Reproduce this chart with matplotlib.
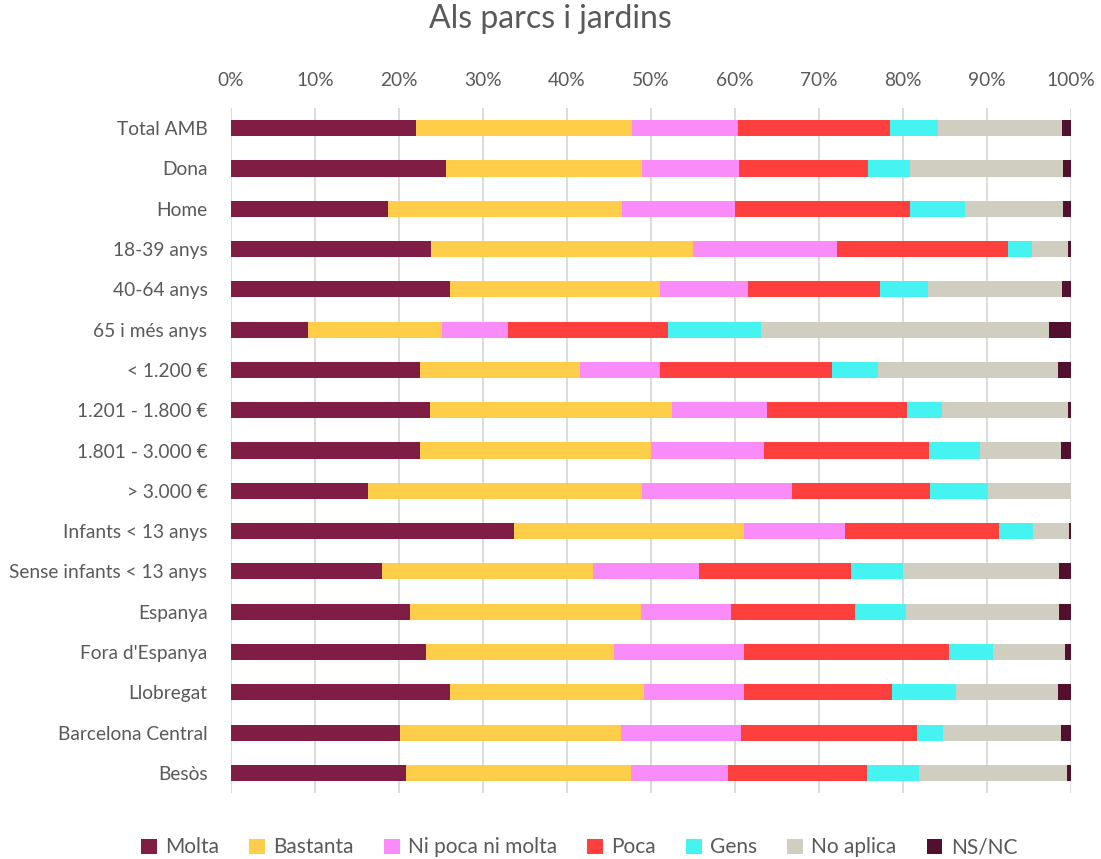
import matplotlib
matplotlib.use("Agg")
import matplotlib.pyplot as plt
import numpy as np
from matplotlib.ticker import PercentFormatter

plt.rcParams['font.family'] = ['Lato', 'DejaVu Sans']

categories = ["Total AMB", "Dona", "Home", "18-39 anys", "40-64 anys", "65 i més anys",
              "< 1.200 €", "1.201 - 1.800 €", "1.801 - 3.000 €", "> 3.000 €",
              "Infants < 13 anys", "Sense infants < 13 anys", "Espanya", "Fora d'Espanya",
              "Llobregat", "Barcelona Central", "Besòs"]

series_names = ["Molta", "Bastanta", "Ni poca ni molta", "Poca", "Gens", "No aplica", "NS/NC"]

molta     = [22.0, 25.6, 18.7, 23.9, 26.1, 9.2, 22.5, 23.7, 22.5, 16.3, 33.7, 18.0, 21.3, 23.2, 26.1, 20.1, 20.8]
bastanta  = [25.7, 23.3, 27.8, 31.2, 25.0, 15.9, 19.0, 28.8, 27.6, 32.6, 27.4, 25.0, 27.6, 22.4, 23.1, 26.4, 26.9]
ni_poca   = [12.7, 11.5, 13.4, 17.2, 10.4, 7.9, 9.6, 11.2, 13.4, 17.9, 12.1, 12.6, 10.7, 15.5, 11.9, 14.3, 11.5]
poca      = [18.1, 15.4, 20.9, 20.4, 15.8, 19.0, 20.4, 16.7, 19.7, 16.4, 18.3, 18.1, 14.8, 24.5, 17.6, 21.0, 16.6]
gens      = [5.7, 5.0, 6.5, 2.9, 5.7, 11.0, 5.5, 4.2, 6.0, 6.9, 4.1, 6.2, 6.0, 5.2, 7.6, 3.1, 6.2]
no_aplica = [14.7, 18.1, 11.6, 4.3, 15.9, 34.3, 21.5, 15.0, 9.7, 9.9, 4.3, 18.6, 18.3, 8.6, 12.2, 14.0, 17.6]
nsnc      = [1.1, 1.0, 1.0, 0.3, 1.1, 2.6, 1.5, 0.3, 1.2, 0.0, 0.2, 1.4, 1.4, 0.7, 1.5, 1.2, 0.5]

colors = ["#7F1D45", "#FECE4A", "#FA8CFA", "#FF3E3E", "#45F3F0", "#D0CDC1", "#52102E"]

data = np.array([molta, bastanta, ni_poca, poca, gens, no_aplica, nsnc])
# normalise each bar to 100%
data = data / data.sum(axis=0) * 100

fig = plt.figure(figsize=(11.01, 8.59), dpi=100)
ax = fig.add_axes([231 / 1101, 1 - 793 / 859, 840 / 1101, 685 / 859])

y = np.arange(len(categories))
left = np.zeros(len(categories))
for i in range(len(series_names)):
    ax.barh(y, data[i], left=left, height=0.4, color=colors[i], label=series_names[i], zorder=3)
    left += data[i]

ax.set_xlim(0, 100)
ax.set_ylim(len(categories) - 0.5, -0.5)
ax.set_yticks(y)
ax.set_yticklabels(categories)
ax.set_xticks(np.arange(0, 101, 10))
ax.xaxis.set_major_formatter(PercentFormatter(decimals=0))
ax.xaxis.tick_top()
ax.tick_params(axis='both', length=0, labelsize=13.8, colors='#595959')
ax.tick_params(axis='x', pad=14)
ax.tick_params(axis='y', pad=17)
ax.grid(axis='x', color='#D9D9D9', linewidth=1.3, zorder=0)
for s in ax.spines.values():
    s.set_visible(False)

fig.suptitle("Als parcs i jardins", y=0.995, fontsize=23, color='#595959')

fig.legend(loc='lower center', ncol=7, frameon=False, fontsize=15,
           bbox_to_anchor=(0.526, -0.02), handlelength=0.75, handleheight=0.75,
           handletextpad=0.4, columnspacing=1.45, labelcolor='#595959')

fig.savefig("out.png", dpi=100)
